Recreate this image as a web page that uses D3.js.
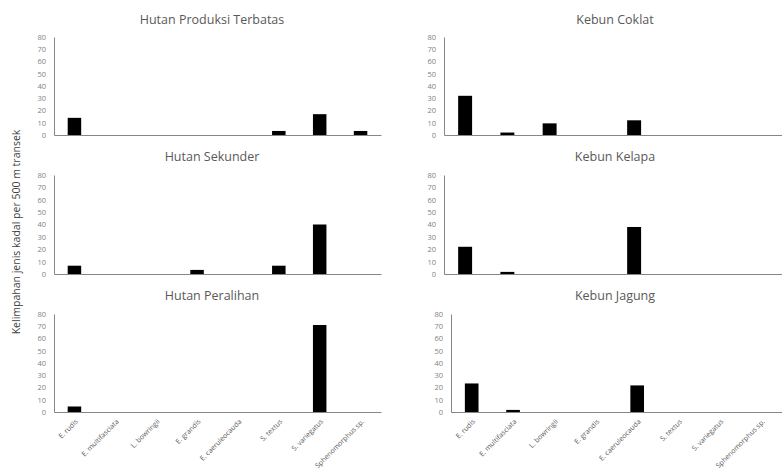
<!DOCTYPE html>
<html>
<head>
<meta charset="utf-8">
<script src="https://cdn.jsdelivr.net/npm/d3@7"></script>
<style>
  body { margin: 0; background: #fff; }
  text { font-family: "Open Sans", "Noto Sans", sans-serif; }
</style>
</head>
<body>
<div id="chart"></div>
<script>
// species on the x axis
const species = ["E. rudis", "E. multifasciata", "L. bowringii", "E. grandis",
                 "E. caeruleocauda", "S. textus", "S. variegatus", "Sphenomorphus sp."];
const yTicks = [0, 10, 20, 30, 40, 50, 60, 70, 80];

// abundance per 500 m transect
const hutanProduksi = [14, 0, 0, 0, 0, 3.3, 17, 3.3];
const hutanSekunder = [6.7, 0, 0, 3.3, 0, 6.7, 40, 0];
const hutanPeralihan = [4.5, 0, 0, 0, 0, 0, 71, 0];
const kebunCoklat = [32, 2, 9.5, 0, 12, 0, 0, 0];
const kebunKelapa = [22, 1.7, 0, 0, 38, 0, 0, 0];
const kebunJagung = [23.3, 1.7, 0, 0, 21.7, 0, 0, 0];

const panels = [
  { title: "Hutan Produksi Terbatas", values: hutanProduksi, x0: 54, x1: 381, y0: 37, y1: 135, tx: 212, ty: 24, labels: false },
  { title: "Hutan Sekunder", values: hutanSekunder, x0: 54, x1: 381, y0: 175, y1: 274, tx: 212, ty: 161, labels: false },
  { title: "Hutan Peralihan", values: hutanPeralihan, x0: 54, x1: 381, y0: 314, y1: 412, tx: 212, ty: 300, labels: true },
  { title: "Kebun Coklat", values: kebunCoklat, x0: 444, x1: 782, y0: 37, y1: 135, tx: 615, ty: 24, labels: false },
  { title: "Kebun Kelapa", values: kebunKelapa, x0: 444, x1: 782, y0: 175, y1: 274, tx: 615, ty: 161, labels: false },
  { title: "Kebun Jagung", values: kebunJagung, x0: 451, x1: 782, y0: 314, y1: 412, tx: 615, ty: 300, labels: true }
];

const svg = d3.select("#chart").append("svg")
  .attr("width", 782)
  .attr("height", 468);

panels.forEach(p => {
  const x = d3.scaleBand().domain(species).range([p.x0, p.x1]).padding(0);
  const y = d3.scaleLinear().domain([0, 80]).range([p.y1, p.y0]);
  const g = svg.append("g");

  g.append("text")
    .attr("x", p.tx)
    .attr("y", p.ty)
    .attr("text-anchor", "middle")
    .attr("font-size", "12.5px")
    .attr("fill", "#595959")
    .text(p.title);

  // y axis
  const yAxis = g.append("g")
    .attr("transform", `translate(${p.x0},0)`)
    .call(d3.axisLeft(y).tickValues(yTicks).tickSize(0).tickPadding(8));
  yAxis.select(".domain").attr("stroke", "#868686");
  yAxis.selectAll("text").attr("font-size", "7.5px").attr("fill", "#7f7f7f")
    .style("font-family", "'Open Sans', sans-serif");

  const bw = x.bandwidth() * 0.33;
  g.selectAll("rect")
    .data(p.values)
    .join("rect")
    .attr("x", (d, i) => x(species[i]) + x.bandwidth() / 2 - bw / 2)
    .attr("width", bw)
    .attr("y", d => y(d))
    .attr("height", d => y(0) - y(d))
    .attr("fill", "#000");

  // x axis
  const xAxis = g.append("g")
    .attr("transform", `translate(0,${p.y1})`)
    .call(d3.axisBottom(x).tickSize(0).tickSizeOuter(0).tickFormat(p.labels ? null : ""));
  xAxis.select(".domain").attr("stroke", "#868686").attr("stroke-width", 1.2);
  if (p.labels) {
    xAxis.selectAll("text")
      .attr("font-size", "7px")
      .attr("fill", "#595959")
      .style("font-family", "'Open Sans', sans-serif")
      .attr("text-anchor", "end")
      .attr("dy", 0)
      .attr("transform", "translate(4,10) rotate(-45)")
      .attr("y", 0);
  }
});

svg.append("text")
  .attr("transform", "translate(20,232) rotate(-90)")
  .attr("text-anchor", "middle")
  .attr("font-size", "10.5px")
  .attr("fill", "#404040")
  .text("Kelimpahan jenis kadal per 500 m transek");
</script>
</body>
</html>
